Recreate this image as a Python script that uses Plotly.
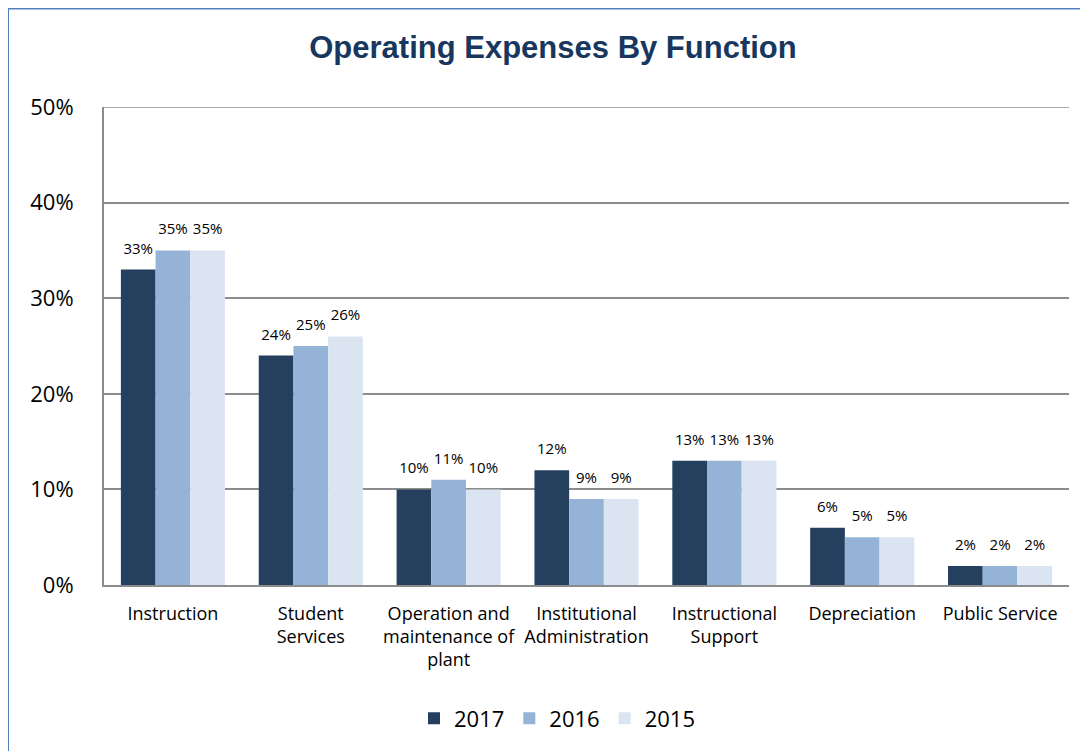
import plotly.graph_objects as go

categories = ["Instruction", "Student<br>Services", "Operation and<br>maintenance of<br>plant",
              "Institutional<br>Administration", "Instructional<br>Support", "Depreciation", "Public Service"]
series_names = ["2017", "2016", "2015"]
values_2017 = [33, 24, 10, 12, 13, 6, 2]
values_2016 = [35, 25, 11, 9, 13, 5, 2]
values_2015 = [35, 26, 10, 9, 13, 5, 2]
colors = ["#253F5F", "#95B3D7", "#DBE5F1"]
y_ticks = [0, 10, 20, 30, 40, 50]

fig = go.Figure()
for name, vals, col in zip(series_names, [values_2017, values_2016, values_2015], colors):
    fig.add_trace(go.Bar(
        x=categories, y=vals, name=name, marker_color=col, marker_line_width=0,
        offsetgroup=name, alignmentgroup="g",
    ))
for name, vals in zip(series_names, [values_2017, values_2016, values_2015]):
    fig.add_trace(go.Scatter(
        x=categories, y=vals, mode="markers+text", showlegend=False, hoverinfo="skip",
        offsetgroup=name, alignmentgroup="g",
        marker=dict(size=18, opacity=0),
        text=[f"{v}%" for v in vals], textposition="top center", cliponaxis=False,
        textfont=dict(size=15, color="#000000", family="Open Sans"),
    ))

fig.update_layout(
    width=1080, height=743,
    margin=dict(l=96, r=19, t=99, b=156),
    paper_bgcolor="white", plot_bgcolor="white",
    barmode="group", bargap=0.245, bargroupgap=0,
    scattermode="group", scattergap=0.245,
    title=dict(text="<b>Operating Expenses By Function</b>", x=(553 - 8) / 1080, xanchor="center",
               y=1 - 39/743, yanchor="middle",
               font=dict(family="Liberation Sans", size=31, color="#17375E")),
    font=dict(family="Open Sans", color="#000000"),
    yaxis=dict(range=[0, 50], tickvals=y_ticks, ticktext=[f"{t}%" for t in y_ticks],
               showgrid=True, gridcolor="#8C8C8C", gridwidth=1.5, zeroline=False,
               showline=True, linecolor="#8C8C8C", linewidth=2, ticks="",
               tickfont=dict(size=22, family="Open Sans"), ticklabelstandoff=24),
    xaxis=dict(showline=True, linecolor="#8C8C8C", linewidth=2, ticks="",
               tickfont=dict(size=18, family="Open Sans"), tickangle=0, ticklabelstandoff=11),
    legend=dict(orientation="h", x=(557 - 104) / 965, xanchor="center", y=-0.235, yanchor="top",
                font=dict(size=22, family="Open Sans"), itemwidth=30, traceorder="normal"),
    shapes=[
        dict(type="rect", xref="paper", yref="paper",
             x0=(8 - 96 - 8) / 965, x1=1.3, y0=-0.6, y1=(587 - 8) / 480,
             line=dict(color="#4F81BD", width=2), fillcolor="rgba(0,0,0,0)", layer="below"),
        dict(type="line", xref="paper", yref="y", x0=0, x1=1, y0=50, y1=50,
             line=dict(color="#8C8C8C", width=1.5), layer="below"),
    ],
)

fig.write_html("out.html")
